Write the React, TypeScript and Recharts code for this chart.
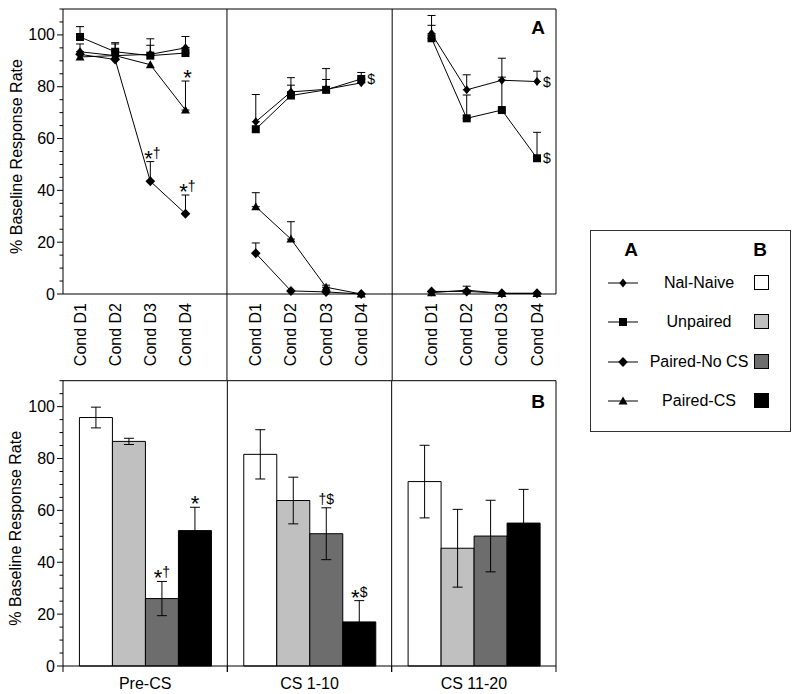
import React from "react";
import {
  ComposedChart,
  Line,
  Bar,
  Scatter,
  XAxis,
  YAxis,
  ReferenceLine,
  ErrorBar,
  LabelList,
} from "recharts";

const FONT = "'Liberation Sans', Arial, Helvetica, sans-serif";

const seriesNames = ["Nal-Naive", "Unpaired", "Paired-No CS", "Paired-CS"];
const dayLabels = ["Cond D1", "Cond D2", "Cond D3", "Cond D4"];
const blockLabels = ["Pre-CS", "CS 1-10", "CS 11-20"];
const yTickValues = [0, 5, 10, 15, 20, 25, 30, 35, 40, 45, 50, 55, 60, 65, 70, 75, 80, 85, 90, 95, 100, 105, 110];
const yTickLabels = [0, 20, 40, 60, 80, 100];

// Panel A: three blocks of four conditioning days (mean, upper error)
const naiveA = [93.5, 92, 92.5, 95, 66.5, 78, 79, 81.5, 100.5, 78.8, 82.5, 82];
const naiveAErr = [3, 5, 6, 4.4, 10.5, 5.5, 8, 1.5, 7, 5.8, 8.5, 4];
const unpairedA = [99.2, 93.5, 92, 93, 63.6, 76.6, 78.8, 83, 98.7, 67.8, 71, 52.4];
const unpairedAErr = [4, 3, 4, 2, 0, 4, 4, 2.5, 5, 9, 12.7, 10];
const pairedNoCsA = [92.5, 90.5, 43.5, 31, 15.7, 1.2, 0.8, 0, 1, 1, 0.3, 0.3];
const pairedNoCsAErr = [0, 0, 7.6, 7.2, 4, 0, 0, 0, 0, 0, 0, 0];
const pairedCsA = [91.5, 92, 88.5, 71, 33.7, 21.2, 2.6, 0, 0.5, 1.5, 0.2, 0.2];
const pairedCsAErr = [0, 0, 0, 11.2, 5.4, 6.7, 0.8, 0, 0, 1.5, 0, 0];

// significance marks in panel A: series index, point index, text, where
const notesA = [
  { series: 3, idx: 3, text: "*", side: "top" },
  { series: 2, idx: 2, text: "*†", side: "top" },
  { series: 2, idx: 3, text: "*†", side: "top" },
  { series: 1, idx: 7, text: "$", side: "right" },
  { series: 0, idx: 11, text: "$", side: "right" },
  { series: 1, idx: 11, text: "$", side: "right" },
];

// Panel B: three CS blocks (mean, SEM)
const naiveB = [95.8, 81.6, 71.1];
const naiveBErr = [4, 9.5, 14];
const unpairedB = [86.6, 63.8, 45.4];
const unpairedBErr = [1.2, 9, 15];
const pairedNoCsB = [26, 51, 50.1];
const pairedNoCsBErr = [6.6, 10, 13.8];
const pairedCsB = [52.2, 17, 55.1];
const pairedCsBErr = [9, 8.2, 13];
const pairedNoCsBNotes = ["*†", "†$", ""];
const pairedCsBNotes = ["*", "*$", ""];

const aValues = [naiveA, unpairedA, pairedNoCsA, pairedCsA];
const aErrors = [naiveAErr, unpairedAErr, pairedNoCsAErr, pairedCsAErr];
const bValues = [naiveB, unpairedB, pairedNoCsB, pairedCsB];
const bErrors = [naiveBErr, unpairedBErr, pairedNoCsBErr, pairedCsBErr];
const bNotes = [null, null, pairedNoCsBNotes, pairedCsBNotes];

const markerKinds = ["smallDiamond", "square", "diamond", "triangle"];
const barFills = ["#ffffff", "#c0c0c0", "#6d6d6d", "#000000"];

// x layout of panel A: days at 1-4, 6-9, 11-14
const xOf = (i: number) => Math.floor(i / 4) * 5 + (i % 4) + 1;
const aXDomain = [0.516, 14.54];
const aDividers = [5.18, 9.88];
const dayTicks = naiveA.map((_, i) => xOf(i));

const aRows = (s: number, block: number) =>
  dayLabels.map((_, d) => {
    const i = block * 4 + d;
    const e = aErrors[s][i];
    return { x: xOf(i), y: aValues[s][i], err: e > 0 ? [0, e] : null };
  });

const noteRows = notesA.map((n) => {
  const v = aValues[n.series][n.idx];
  const e = aErrors[n.series][n.idx];
  return { x: xOf(n.idx), y: n.side === "top" ? v + e : v, text: n.text, side: n.side };
});

const bRows = blockLabels.map((name, i) => {
  const row: any = { name };
  bValues.forEach((vals, s) => {
    row[`v${s}`] = vals[i];
    row[`e${s}`] = bErrors[s][i];
    row[`n${s}`] = bNotes[s] ? bNotes[s]![i] : "";
  });
  return row;
});

function drawMarker(kind: string, cx: number, cy: number, key?: any) {
  if (kind === "square") return <rect key={key} x={cx - 4} y={cy - 4} width={8} height={8} fill="#000" />;
  if (kind === "triangle")
    return <path key={key} d={`M${cx},${cy - 4.5}L${cx + 4.5},${cy + 3.5}L${cx - 4.5},${cy + 3.5}Z`} fill="#000" />;
  const w = kind === "diamond" ? 4.8 : 3.6;
  const h = kind === "diamond" ? 5 : 4.5;
  return <path key={key} d={`M${cx},${cy - h}L${cx + w},${cy}L${cx},${cy + h}L${cx - w},${cy}Z`} fill="#000" />;
}

function NoteText({ x, y, text, anchor = "middle" }: any) {
  let prev = 0;
  return (
    <text x={x} y={y} textAnchor={anchor} fontFamily={FONT} fontSize={14} fill="#000">
      {Array.from(text as string).map((c, i) => {
        const off = c === "*" ? 8 : 0;
        const dy = off - prev;
        prev = off;
        return (
          <tspan key={i} dy={dy} fontSize={c === "*" ? 22 : 14}>
            {c}
          </tspan>
        );
      })}
    </text>
  );
}

function NoteShape(p: any) {
  const { cx, cy, payload } = p;
  if (cx == null || cy == null) return <g />;
  if (payload.side === "right") {
    return (
      <text x={cx + 6} y={cy + 5} fontFamily={FONT} fontSize={14} fill="#000">
        {payload.text}
      </text>
    );
  }
  return <NoteText x={cx + 2} y={cy - 4} text={payload.text} />;
}

function YTick(p: any) {
  const { x, y, payload } = p;
  const major = yTickLabels.includes(payload.value);
  return (
    <g>
      <line x1={x - (major ? 6 : 3.5)} x2={x} y1={y} y2={y} stroke="#000" strokeWidth={1} />
      {major && (
        <text x={x - 8} y={y} textAnchor="end" dominantBaseline="central" fontFamily={FONT} fontSize={16} fill="#000">
          {payload.value}
        </text>
      )}
    </g>
  );
}

function DayTick(p: any) {
  const { x, y, payload } = p;
  const label = dayLabels[(payload.value - 1) % 5];
  const ty = y + 9;
  return (
    <text
      x={x}
      y={ty}
      transform={`rotate(-90 ${x} ${ty})`}
      textAnchor="end"
      dominantBaseline="central"
      fontFamily={FONT}
      fontSize={16}
      fill="#000"
    >
      {label}
    </text>
  );
}

function BlockTick(p: any) {
  const { x, y, payload, width, visibleTicksCount } = p;
  const half = width && visibleTicksCount ? width / visibleTicksCount / 2 : 0;
  return (
    <g>
      {half > 0 && (
        <>
          <line x1={x - half} x2={x - half} y1={y} y2={y + 6} stroke="#000" strokeWidth={1} />
          <line x1={x + half} x2={x + half} y1={y} y2={y + 6} stroke="#000" strokeWidth={1} />
        </>
      )}
      <text x={x} y={y + 17} textAnchor="middle" dominantBaseline="central" fontFamily={FONT} fontSize={16} fill="#000">
        {payload.value}
      </text>
    </g>
  );
}

const yLabel = (props: any) => {
  const vb = props.viewBox;
  const cx = vb.x + 16;
  const cy = vb.y + vb.height / 2 + 5;
  return (
    <text
      x={cx}
      y={cy}
      transform={`rotate(-90 ${cx} ${cy})`}
      textAnchor="middle"
      dominantBaseline="central"
      fontFamily={FONT}
      fontSize={16}
      fill="#000"
    >
      % Baseline Response Rate
    </text>
  );
};

const barNote = (s: number) => (props: any) => {
  const { index, value } = props;
  if (!value) return null;
  const vb = props.viewBox || props;
  const v = bValues[s][index];
  const errTop = vb.y - (bErrors[s][index] * vb.height) / v;
  return <NoteText key={`bn-${s}-${index}`} x={vb.x + vb.width / 2} y={errTop - 4} text={value} />;
};

function TopChart() {
  return (
    <ComposedChart width={800} height={380} margin={{ top: 9, right: 244, bottom: 0, left: 0 }}>
      <XAxis
        dataKey="x"
        type="number"
        domain={aXDomain}
        allowDataOverflow
        ticks={dayTicks}
        interval={0}
        height={86}
        tickLine={false}
        tickSize={0}
        tickMargin={0}
        axisLine={{ stroke: "#000" }}
        tick={(p: any) => <DayTick {...p} />}
      />
      <YAxis
        type="number"
        domain={[0, 110]}
        ticks={yTickValues}
        interval={0}
        width={63}
        tickLine={false}
        tickSize={0}
        tickMargin={0}
        axisLine={{ stroke: "#000" }}
        tick={(p: any) => <YTick {...p} />}
        label={yLabel}
      />
      <ReferenceLine y={110} stroke="#000" ifOverflow="visible" />
      <ReferenceLine x={aXDomain[1]} stroke="#000" ifOverflow="visible" />
      {aDividers.map((d) => (
        <ReferenceLine
          key={`div-${d}`}
          segment={[
            { x: d, y: -33.2 },
            { x: d, y: 110 },
          ]}
          stroke="#000"
          ifOverflow="visible"
        />
      ))}
      {[0, 1, 2].flatMap((b) =>
        seriesNames.map((name, s) => (
          <Line
            key={`l-${b}-${s}`}
            name={name}
            data={aRows(s, b)}
            dataKey="y"
            stroke="#000"
            strokeWidth={1}
            dot={(p: any) =>
              p.cx == null || p.cy == null ? <g key={`d-${b}-${s}-${p.index}`} /> : drawMarker(markerKinds[s], p.cx, p.cy, `d-${b}-${s}-${p.index}`)
            }
            activeDot={false}
            legendType="none"
            isAnimationActive={false}
          >
            <ErrorBar dataKey="err" width={4} stroke="#000" strokeWidth={1} direction="y" />
          </Line>
        ))
      )}
      <Scatter data={noteRows} dataKey="y" shape={(p: any) => <NoteShape {...p} />} isAnimationActive={false} legendType="none" />
    </ComposedChart>
  );
}

function BottomChart() {
  return (
    <ComposedChart
      width={800}
      height={324}
      data={bRows}
      margin={{ top: 10.7, right: 244, bottom: 0, left: 0 }}
      barCategoryGap="10%"
      barGap={0}
    >
      <XAxis
        dataKey="name"
        interval={0}
        height={28}
        tickLine={false}
        tickSize={0}
        tickMargin={0}
        axisLine={{ stroke: "#000" }}
        tick={(p: any) => <BlockTick {...p} />}
      />
      <YAxis
        type="number"
        domain={[0, 110]}
        ticks={yTickValues}
        interval={0}
        width={63}
        tickLine={false}
        tickSize={0}
        tickMargin={0}
        axisLine={{ stroke: "#000" }}
        tick={(p: any) => <YTick {...p} />}
        label={yLabel}
      />
      <ReferenceLine y={110} stroke="#000" ifOverflow="visible" />
      {blockLabels.map((name) => (
        <ReferenceLine key={`bd-${name}`} x={name} position="end" stroke="#000" ifOverflow="visible" />
      ))}
      {seriesNames.map((name, s) => (
        <Bar
          key={`b-${s}`}
          name={name}
          dataKey={`v${s}`}
          fill={barFills[s]}
          stroke="#000"
          strokeWidth={1}
          isAnimationActive={false}
        >
          <ErrorBar dataKey={`e${s}`} width={5} stroke="#000" strokeWidth={1} direction="y" />
          {bNotes[s] && <LabelList dataKey={`n${s}`} content={barNote(s)} />}
        </Bar>
      ))}
    </ComposedChart>
  );
}

function LegendBox() {
  return (
    <div
      style={{
        position: "absolute",
        left: 590,
        top: 230,
        width: 199,
        height: 200,
        border: "1px solid #333",
        fontFamily: FONT,
        color: "#000",
      }}
    >
      <div style={{ position: "absolute", left: 28, top: 8, width: 24, textAlign: "center", fontWeight: "bold", fontSize: 19 }}>A</div>
      <div style={{ position: "absolute", left: 157, top: 8, width: 24, textAlign: "center", fontWeight: "bold", fontSize: 19 }}>B</div>
      {seriesNames.map((name, s) => (
        <div key={name} style={{ position: "absolute", left: 0, top: 41 + s * 39.3, width: 199, height: 22 }}>
          <svg width={30} height={22} style={{ position: "absolute", left: 17, top: 0 }}>
            <line x1={0} x2={30} y1={11} y2={11} stroke="#000" strokeWidth={1} />
            {drawMarker(markerKinds[s], 15, 11)}
          </svg>
          <div style={{ position: "absolute", left: 58, width: 100, top: 2, textAlign: "center", fontSize: 16, whiteSpace: "nowrap" }}>
            {name}
          </div>
          <div
            style={{
              position: "absolute",
              left: 163,
              top: 3,
              width: 13,
              height: 13,
              background: barFills[s],
              border: "1px solid #000",
            }}
          />
        </div>
      ))}
    </div>
  );
}

export default function App() {
  return (
    <div style={{ position: "absolute", left: 0, top: 0, width: 800, height: 694, background: "#fff" }}>
      <div style={{ position: "absolute", left: 0, top: 0 }}>
        <TopChart />
      </div>
      <div style={{ position: "absolute", left: 0, top: 370 }}>
        <BottomChart />
      </div>
      <div style={{ position: "absolute", left: 521, top: 17, width: 24, textAlign: "right", fontFamily: FONT, fontWeight: "bold", fontSize: 19 }}>
        A
      </div>
      <div style={{ position: "absolute", left: 521, top: 391, width: 24, textAlign: "right", fontFamily: FONT, fontWeight: "bold", fontSize: 19 }}>
        B
      </div>
      <LegendBox />
    </div>
  );
}
